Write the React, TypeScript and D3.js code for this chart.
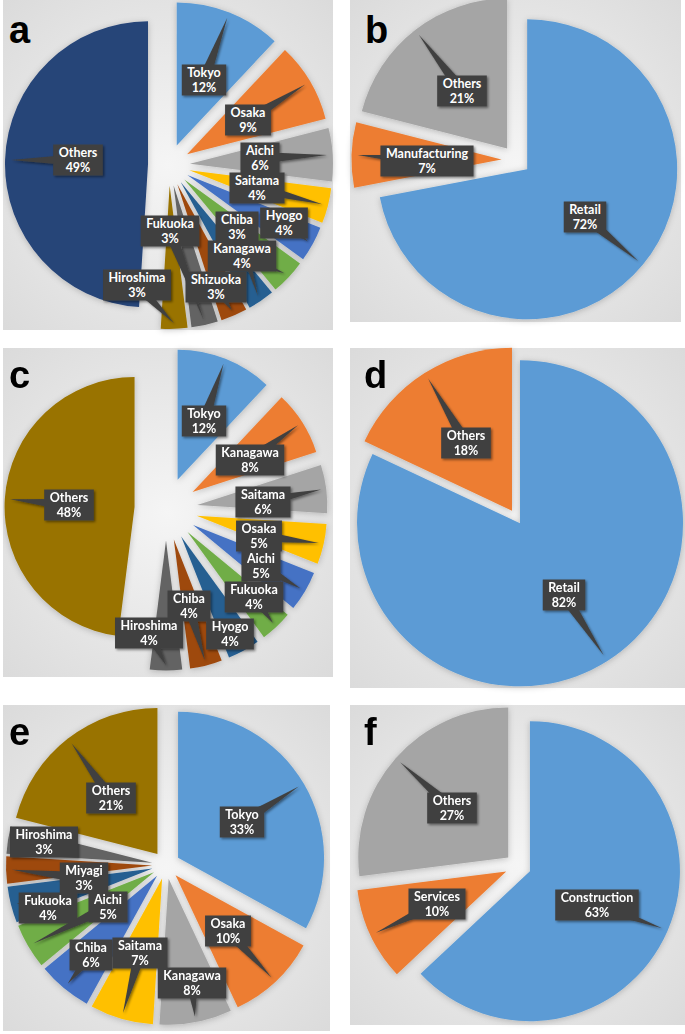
import React from 'react';
import * as d3 from 'd3';

// Office 2013 palette, used in slice order
const officeColors = ['#5B9BD5', '#ED7D31', '#A5A5A5', '#FFC000', '#4472C4', '#70AD47', '#255E91', '#9E480E', '#636363', '#997300', '#264478'];

const namesA = ['Tokyo', 'Osaka', 'Aichi', 'Saitama', 'Hyogo', 'Kanagawa', 'Chiba', 'Shizuoka', 'Fukuoka', 'Hiroshima', 'Others'];
const valuesA = [12, 9, 6, 4, 4, 4, 3, 3, 3, 3, 49];

const namesB = ['Retail', 'Manufacturing', 'Others'];
const valuesB = [72, 7, 21];

const namesC = ['Tokyo', 'Kanagawa', 'Saitama', 'Osaka', 'Aichi', 'Fukuoka', 'Hyogo', 'Chiba', 'Hiroshima', 'Others'];
const valuesC = [12, 8, 6, 5, 5, 4, 4, 4, 4, 48];

const namesD = ['Retail', 'Others'];
const valuesD = [82, 18];

const namesE = ['Tokyo', 'Osaka', 'Kanagawa', 'Saitama', 'Chiba', 'Aichi', 'Fukuoka', 'Miyagi', 'Hiroshima', 'Others'];
const valuesE = [33, 10, 8, 7, 6, 5, 4, 3, 3, 21];

const namesF = ['Construction', 'Services', 'Others'];
const valuesF = [63, 10, 27];

// layout: label box centres relative to the pie centre
const labelOffsetsA = [[35, -85], [79, -45], [91, -7], [88, 23], [115, 58], [73, 91], [68, 62], [47, 122], [1, 66], [-32, 120], [-91, -5]];
const labelOffsetsB = [[69, 57], [-89, 1], [-54, -69]];
const labelOffsetsC = [[38, -88], [84, -49], [97, -7], [93, 27], [95, 57], [88, 88], [64, 125], [23, 97], [-17, 124], [-97, -4]];
const labelOffsetsD = [[48, 78], [-50, -74]];
const labelOffsetsE = [[76, -43], [62, 66], [26, 118], [-26, 88], [-75, 90], [-58, 42], [-118, 43], [-82, 13], [-122, -23], [-55, -67]];
const labelOffsetsF = [[79, 39], [-81, 38], [-66, -58]];

const panels = [
  { letter: 'a', names: namesA, values: valuesA, offsets: labelOffsetsA, bg: [3, 0, 330, 330], cx: 169, cy: 165, r: 143, explode: 21, lx: 9, ly: 43 },
  { letter: 'b', names: namesB, values: valuesB, offsets: labelOffsetsB, bg: [350, 0, 331, 322], cx: 516, cy: 160, r: 150, explode: 14.5, lx: 365, ly: 43 },
  { letter: 'c', names: namesC, values: valuesC, offsets: labelOffsetsC, bg: [3, 348, 330, 329], cx: 166, cy: 509, r: 130, explode: 31.5, lx: 9, ly: 388 },
  { letter: 'd', names: namesD, values: valuesD, offsets: labelOffsetsD, bg: [350, 348, 335, 340], cx: 516, cy: 517, r: 163, explode: 7.5, lx: 364, ly: 388 },
  { letter: 'e', names: namesE, values: valuesE, offsets: labelOffsetsE, bg: [3, 705, 327, 326], cx: 166, cy: 865, r: 146, explode: 14, lx: 9, ly: 745 },
  { letter: 'f', names: namesF, values: valuesF, offsets: labelOffsetsF, bg: [350, 705, 335, 320], cx: 518, cy: 866, r: 150, explode: 13, lx: 364, ly: 745 },
];

const labelFont = 'bold 12.5px Lato';
let measureCtx: CanvasRenderingContext2D | null = null;
const textWidth = (s: string) => {
  if (!measureCtx) measureCtx = document.createElement('canvas').getContext('2d');
  if (!measureCtx) return s.length * 7;
  measureCtx.font = labelFont;
  return measureCtx.measureText(s).width;
};

const PiePanel = ({ p, idx }: { p: any; idx: number }) => {
  const pie = d3.pie<number>().sort(null).value(d => d);
  const arcs = pie(p.values);
  const arc = d3.arc<d3.PieArcDatum<number>>().innerRadius(0).outerRadius(p.r);
  const [bx, by, bw, bh] = p.bg;
  const boxH = 31;

  const slices = arcs.map((a, i) => {
    const mid = (a.startAngle + a.endAngle) / 2;
    const ux = Math.sin(mid), uy = -Math.cos(mid);
    const ox = p.cx + ux * p.explode, oy = p.cy + uy * p.explode;
    const tip = [ox + ux * p.r * 0.96, oy + uy * p.r * 0.96];
    const lab = [p.cx + p.offsets[i][0], p.cy + p.offsets[i][1]];
    const pct = `${p.values[i]}%`;
    const w = Math.max(textWidth(p.names[i]), textWidth(pct)) + 11;
    return { a, i, ox, oy, tip, lab, pct, w };
  });

  return (
    <g>
      <radialGradient id={`bg${idx}`} cx="50%" cy="50%" r="70%">
        <stop offset="0%" stopColor="#f5f5f5" />
        <stop offset="100%" stopColor="#dbdbdb" />
      </radialGradient>
      <rect x={bx} y={by} width={bw} height={bh} fill={`url(#bg${idx})`} />
      <g filter="url(#sliceShadow)">
        {slices.map(s => (
          <path key={s.i} d={arc(s.a) || ''} transform={`translate(${s.ox},${s.oy})`} fill={officeColors[s.i]} />
        ))}
      </g>
      <g filter="url(#boxShadow)">
        {slices.map(s => {
          const dx = s.tip[0] - s.lab[0], dy = s.tip[1] - s.lab[1];
          const len = Math.hypot(dx, dy) || 1;
          const nx = -dy / len * 6, ny = dx / len * 6;
          return (
            <path key={s.i}
              d={`M${s.lab[0] + nx},${s.lab[1] + ny}L${s.tip[0]},${s.tip[1]}L${s.lab[0] - nx},${s.lab[1] - ny}Z`}
              fill="#404040"
            />
          );
        })}
        {slices.map(s => (
          <rect key={s.i} x={s.lab[0] - s.w / 2} y={s.lab[1] - boxH / 2} width={s.w} height={boxH} fill="#404040" />
        ))}
      </g>
      {slices.map(s => (
        <g key={s.i}>
          <text x={s.lab[0]} y={s.lab[1] - 3} textAnchor="middle" fill="#fff" style={{ font: labelFont }}>{p.names[s.i]}</text>
          <text x={s.lab[0]} y={s.lab[1] + 12} textAnchor="middle" fill="#fff" style={{ font: labelFont }}>{s.pct}</text>
        </g>
      ))}
      <text x={p.lx} y={p.ly} fontFamily="'Liberation Sans', Arial, sans-serif" fontWeight="bold" fontSize={38} fill="#000">{p.letter}</text>
    </g>
  );
};

const App = () => (
  <div style={{ position: 'absolute', left: 0, top: 0 }}>
    <svg width={685} height={1034} style={{ display: 'block', background: '#fff' }}>
      <defs>
        <filter id="sliceShadow" x="-10%" y="-10%" width="120%" height="120%">
          <feDropShadow dx="0" dy="1" stdDeviation="3" floodColor="#000" floodOpacity="0.22" />
        </filter>
        <filter id="boxShadow" x="-20%" y="-20%" width="140%" height="140%">
          <feDropShadow dx="1.5" dy="1.5" stdDeviation="1.2" floodColor="#000" floodOpacity="0.45" />
        </filter>
      </defs>
      {panels.map((p, i) => <PiePanel key={p.letter} p={p} idx={i} />)}
    </svg>
  </div>
);

export default App;
